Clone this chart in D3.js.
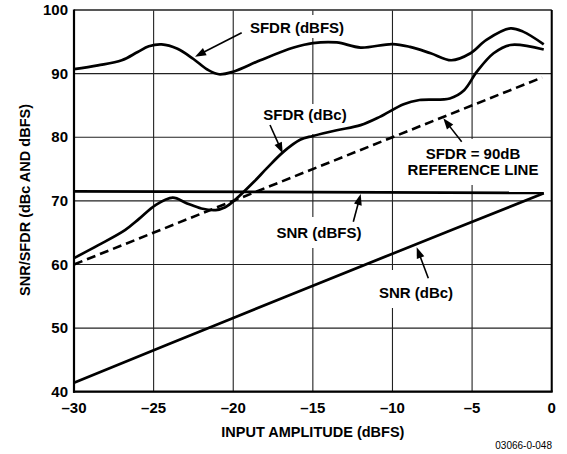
<!DOCTYPE html>
<html>
<head>
<meta charset="utf-8">
<script src="https://cdn.jsdelivr.net/npm/d3@7"></script>
<style>
  body { margin: 0; background: #fff; }
  text { font-family: "Liberation Sans", Arial, Helvetica, sans-serif; font-weight: bold; fill: #000; }
</style>
</head>
<body>
<div id="chart"></div>
<script>
// values
const xTicks = [-30, -25, -20, -15, -10, -5, 0];
const yTicks = [40, 50, 60, 70, 80, 90, 100];

const sfdrDbfsX = [-30, -28.5, -27, -26, -25.3, -24.5, -23.5, -22.5, -21.6, -20.9, -20, -18.3, -16.2, -15, -13.5, -12, -10, -8.9, -7.6, -6.3, -5.1, -4.1, -2.6, -1.8, -0.5];
const sfdrDbfsY = [90.7, 91.3, 92.1, 93.4, 94.3, 94.6, 93.9, 92.3, 90.6, 89.9, 90.3, 92.1, 94.1, 94.8, 94.9, 94.1, 94.65, 94.2, 93.2, 92.1, 93.2, 95.3, 97.1, 96.6, 94.6];

const sfdrDbcX = [-30, -28.5, -26.8, -25.9, -24.9, -23.8, -22.9, -22, -21.1, -20.5, -20, -18.7, -17.9, -16.85, -15.8, -15, -13.5, -12, -10.8, -9.3, -8.3, -6.4, -5.5, -4.7, -3.65, -2.6, -0.5];
const sfdrDbcY = [61.0, 63.0, 65.4, 67.2, 69.3, 70.5, 69.6, 68.8, 68.55, 69.0, 69.9, 73.0, 75.1, 77.7, 79.6, 80.2, 81.1, 81.9, 83.2, 85.2, 85.85, 86.1, 87.4, 90.3, 93.2, 94.5, 93.8];

const refLineX = [-30, -0.6];
const refLineY = [60, 89.4];

const snrDbfsX = [-30, -0.5];
const snrDbfsY = [71.5, 71.25];

const snrDbcX = [-30, -20, -10, -0.5];
const snrDbcY = [41.4, 51.6, 61.7, 71.2];

const margin = {top: 10, right: 15.3, bottom: 62.3, left: 74},
      W = 567, H = 454,
      width = W - margin.left - margin.right,
      height = H - margin.top - margin.bottom;

const svg = d3.select("#chart").append("svg")
    .attr("width", W)
    .attr("height", H)
  .append("g")
    .attr("transform", "translate(" + margin.left + "," + margin.top + ")");

const x = d3.scaleLinear().domain([-30, 0]).range([0, width]);
const y = d3.scaleLinear().domain([40, 100]).range([height, 0]);

// grid
svg.selectAll(".vgrid").data(xTicks).enter().append("line")
    .attr("x1", d => x(d)).attr("x2", d => x(d))
    .attr("y1", 0).attr("y2", height)
    .attr("stroke", "#222").attr("stroke-width", 1.1);
svg.selectAll(".hgrid").data(yTicks).enter().append("line")
    .attr("x1", 0).attr("x2", width)
    .attr("y1", d => y(d)).attr("y2", d => y(d))
    .attr("stroke", "#222").attr("stroke-width", 1.1);

// white patches behind the labels (they break the grid)
const patches = [
  {x: 244, y: 15, w: 106, h: 23},
  {x: 259, y: 104, w: 92, h: 30},
  {x: 399, y: 139, w: 146, h: 46},
  {x: 272, y: 217, w: 94, h: 31},
  {x: 374, y: 270, w: 84, h: 38}
];
svg.selectAll(".patch").data(patches).enter().append("rect")
    .attr("x", d => d.x - margin.left).attr("y", d => d.y - margin.top)
    .attr("width", d => d.w).attr("height", d => d.h)
    .attr("fill", "#fff");

// frame
svg.append("line").attr("x1", 0).attr("x2", width).attr("y1", 0).attr("y2", 0)
    .attr("stroke", "#444").attr("stroke-width", 1.3);
svg.append("line").attr("x1", width).attr("x2", width).attr("y1", 0).attr("y2", height)
    .attr("stroke", "#000").attr("stroke-width", 2);
svg.append("line").attr("x1", 0).attr("x2", 0).attr("y1", -0.6).attr("y2", height + 1)
    .attr("stroke", "#000").attr("stroke-width", 2.2);
svg.append("line").attr("x1", -1).attr("x2", width + 1).attr("y1", height).attr("y2", height)
    .attr("stroke", "#000").attr("stroke-width", 2.2);

// tick labels
const fmt = d => d < 0 ? "\u2013" + Math.abs(d) : String(d);
svg.selectAll(".xlab").data(xTicks).enter().append("text")
    .attr("x", d => x(d)).attr("y", height + 21.6)
    .attr("text-anchor", "middle").style("font-size", "15px")
    .text(fmt);
svg.selectAll(".ylab").data(yTicks).enter().append("text")
    .attr("x", -6).attr("y", d => y(d)).attr("dy", "0.35em")
    .attr("text-anchor", "end").style("font-size", "15px")
    .text(d => d);

// axis titles
svg.append("text")
    .attr("x", width / 2).attr("y", height + 45)
    .attr("text-anchor", "middle").style("font-size", "14.5px")
    .text("INPUT AMPLITUDE (dBFS)");
svg.append("text")
    .attr("transform", "translate(" + (30 - margin.left) + "," + (200 - margin.top) + ")rotate(-90)")
    .attr("text-anchor", "middle").style("font-size", "14.5px")
    .text("SNR/SFDR (dBc AND dBFS)");

// series
function zip(xs, ys) { return xs.map((v, i) => [v, ys[i]]); }
const smooth = d3.line().x(d => x(d[0])).y(d => y(d[1])).curve(d3.curveCatmullRom.alpha(0.5));
const straight = d3.line().x(d => x(d[0])).y(d => y(d[1]));

svg.append("path").datum(zip(refLineX, refLineY))
    .attr("d", straight).attr("fill", "none")
    .attr("stroke", "#000").attr("stroke-width", 2.6).attr("stroke-dasharray", "9,5");
svg.append("path").datum(zip(snrDbfsX, snrDbfsY))
    .attr("d", straight).attr("fill", "none")
    .attr("stroke", "#000").attr("stroke-width", 2.7);
svg.append("path").datum(zip(snrDbcX, snrDbcY))
    .attr("d", smooth).attr("fill", "none")
    .attr("stroke", "#000").attr("stroke-width", 2.7);
svg.append("path").datum(zip(sfdrDbfsX, sfdrDbfsY))
    .attr("d", smooth).attr("fill", "none")
    .attr("stroke", "#000").attr("stroke-width", 2.7);
svg.append("path").datum(zip(sfdrDbcX, sfdrDbcY))
    .attr("d", smooth).attr("fill", "none")
    .attr("stroke", "#000").attr("stroke-width", 2.7);

// annotations with arrows (page coordinates)
const notes = [
  {lines: ["SFDR (dBFS)"], tx: 297, ty: 33, from: [241.7, 32.7], to: [195, 56.7]},
  {lines: ["SFDR (dBc)"], tx: 305, ty: 120, from: [270, 125], to: [282.7, 153.3]},
  {lines: ["SFDR = 90dB", "REFERENCE LINE"], tx: 473, ty: 159.3, from: [461.7, 141.7], to: [443.3, 118.3]},
  {lines: ["SNR (dBFS)"], tx: 319, ty: 238.3, from: [353.3, 221.7], to: [360.7, 194]},
  {lines: ["SNR (dBc)"], tx: 416, ty: 298.3, from: [428.3, 278.3], to: [416.7, 247.3]}
];
const page = svg.append("g").attr("transform", "translate(" + (-margin.left) + "," + (-margin.top) + ")");
notes.forEach(n => {
  n.lines.forEach((t, i) => {
    page.append("text").attr("x", n.tx).attr("y", n.ty + i * 16)
        .attr("text-anchor", "middle").style("font-size", "15px").text(t);
  });
  const dx = n.to[0] - n.from[0], dy = n.to[1] - n.from[1];
  const len = Math.sqrt(dx * dx + dy * dy), ux = dx / len, uy = dy / len;
  const headL = 11, headW = 4;
  const bx = n.to[0] - ux * headL, by = n.to[1] - uy * headL;
  page.append("line")
      .attr("x1", n.from[0]).attr("y1", n.from[1])
      .attr("x2", bx + ux * 2).attr("y2", by + uy * 2)
      .attr("stroke", "#000").attr("stroke-width", 1.6);
  page.append("path")
      .attr("d", "M" + n.to[0] + "," + n.to[1] +
                 "L" + (bx - uy * headW) + "," + (by + ux * headW) +
                 "L" + (bx + uy * headW) + "," + (by - ux * headW) + "Z")
      .attr("fill", "#000");
});

page.append("text")
    .attr("x", 552).attr("y", 449)
    .attr("text-anchor", "end")
    .style("font-size", "10px").style("font-weight", "normal")
    .text("03066-0-048");
</script>
</body>
</html>
